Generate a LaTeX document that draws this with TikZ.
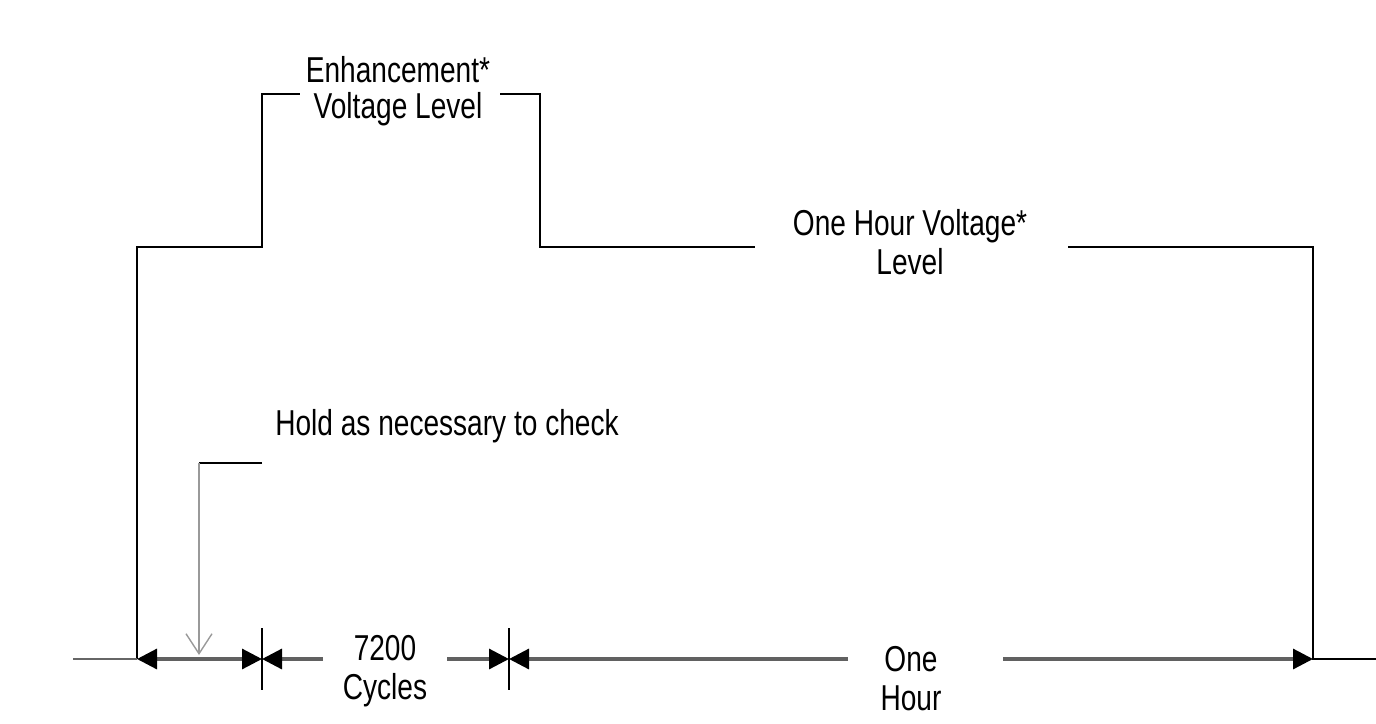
\documentclass[tikz,border=0pt]{standalone}
\usepackage{fontspec}
\setmainfont{Liberation Sans}[FakeStretch=0.78]
\usetikzlibrary{arrows.meta,calc}
\tikzset{
  lbl/.style  ={inner sep=0pt, align=center, font=\fontsize{18}{19.5}\selectfont},
  wave/.style ={line width=1.1pt, draw=black},
  dim/.style  ={line width=1.6pt, draw=black!62},
  tick/.style ={line width=1.1pt, draw=black},
  tip/.style  ={-{Triangle[length=10pt,width=10pt,color=black]}},
  tips/.style ={{Triangle[length=10pt,width=10pt,color=black]}-{Triangle[length=10pt,width=10pt,color=black]}},
  hold/.style ={line width=0.7pt, draw=black!40, -{Straight Barb[length=10pt,width=13pt,line width=0.7pt]}},
}

\begin{document}
\begin{tikzpicture}[x=0.5pt, y=-0.5pt]
  \useasboundingbox (0,0) rectangle (1376,723);

  % corners of the voltage trace
  \coordinate (start) at (73,659);
  \coordinate (up)    at (137,659);
  \coordinate (lowA)  at (137,247);
  \coordinate (stepA) at (262,247);
  \coordinate (highA) at (262,94);
  \coordinate (gapA)  at (300,94);
  \coordinate (gapB)  at (500,94);
  \coordinate (highB) at (540,94);
  \coordinate (lowB)  at (540,247);
  \coordinate (gapC)  at (755,247);
  \coordinate (gapD)  at (1068,247);
  \coordinate (lowC)  at (1313,247);
  \coordinate (down)  at (1313,659);
  \coordinate (stop)  at (1376,659);

  \node[lbl, font=\fontsize{18}{18}\selectfont] (enh) at (398,91) {Enhancement*\\Voltage Level};
  \node[lbl] (onev) at (910,242) {One Hour Voltage*\\Level};
  \node[lbl] (hold) at (447,426) {Hold as necessary to check};

  \draw[wave] (up) -- (lowA) -- (stepA) -- (highA) -- (gapA);
  \draw[wave] (gapB) -- (highB) -- (lowB) -- (gapC);
  \draw[wave] (gapD) -- (lowC) -- (down) -- (stop);
  \draw[line width=1.1pt, draw=black!60] (start) -- (up);

  % hold marker
  \coordinate (hk)  at (262,463);
  \coordinate (hc)  at (199,463);
  \coordinate (hp)  at (199,655);
  \draw[wave] (hk) -- (hc);
  \draw[hold] (hc) -- (hp);

  % time marks on the base line
  \coordinate (mA)  at (262,659);
  \coordinate (mB)  at (509,659);
  \coordinate (tA1) at (262,628);
  \coordinate (tA2) at (262,690);
  \coordinate (tB1) at (509,628);
  \coordinate (tB2) at (509,690);
  \draw[tick] (tA1) -- (tA2);
  \draw[tick] (tB1) -- (tB2);

  \node[lbl] (cyc)  at (385,671) {7200\\Cycles};
  \node[lbl] (hour) at (911,679) {One\\Hour};

  \coordinate (cycL)  at (323,659);
  \coordinate (cycR)  at (447,659);
  \coordinate (hourL) at (848,659);
  \coordinate (hourR) at (1003,659);

  \draw[dim, tips] (up) -- (mA);
  \draw[dim, tip] (cycL) -- (mA);
  \draw[dim, tip] (cycR) -- (mB);
  \draw[dim, tip] (hourL) -- (mB);
  \draw[dim, tip] (hourR) -- (down);
\end{tikzpicture}
\end{document}
